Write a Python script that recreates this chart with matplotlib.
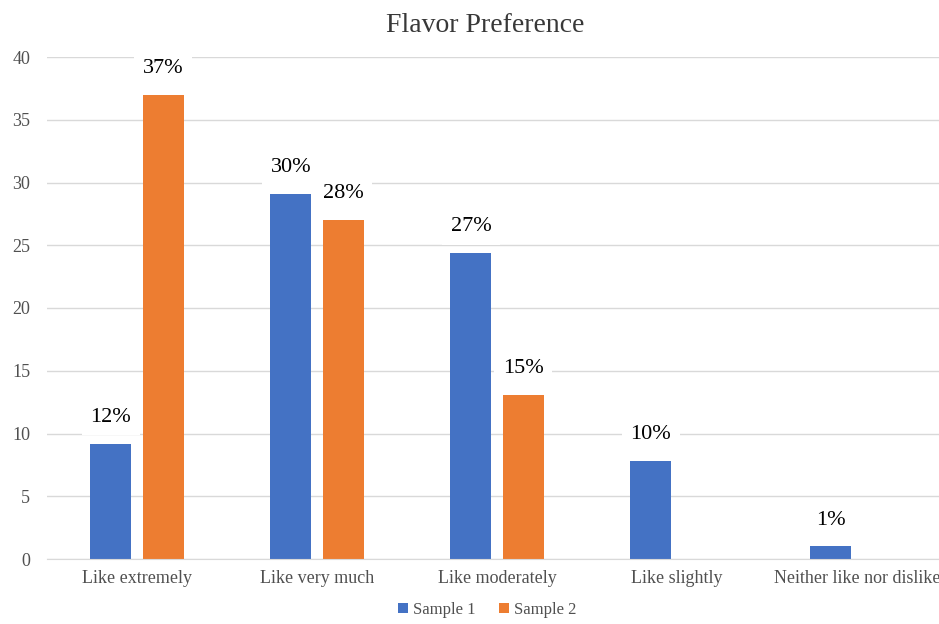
import numpy as np
import matplotlib.pyplot as plt

categories = ['Like extremely', 'Like very much', 'Like moderately',
              'Like slightly', 'Neither like nor dislike']
sample1 = [9.2, 29.1, 24.4, 7.8, 1.0]
sample2 = [37.0, 27.0, 13.1, 0.0, 0.0]
labels1 = ['12%', '30%', '27%', '10%', '1%']
labels2 = ['37%', '28%', '15%', None, None]

blue = '#4472C4'
orange = '#ED7D31'

plt.rcParams['font.family'] = ['Liberation Serif', 'DejaVu Serif']

fig = plt.figure(figsize=(9.39, 6.24), dpi=100)
W, H = 939, 624
x0, x1, y0, y1 = 47, 947, 559, 57
ax = fig.add_axes([x0 / W, 1 - y0 / H, (x1 - x0) / W, (y0 - y1) / H])

x = np.arange(len(categories))
bw = 0.228
off = 0.145
b1 = ax.bar(x - off, sample1, bw, color=blue, label='Sample 1', zorder=2)
b2 = ax.bar(x + off, sample2, bw, color=orange, label='Sample 2', zorder=2)

# percentage labels sit on white boxes that hide the gridlines behind them
box = dict(facecolor='white', edgecolor='none', pad=6)
for xi, h, t in zip(x - off, sample1, labels1):
    ax.annotate(t, (xi, h), xytext=(0, 12), textcoords='offset points',
                ha='center', va='bottom', fontsize=16, bbox=box, zorder=3)
for xi, h, t in zip(x + off, sample2, labels2):
    if t:
        ax.annotate(t, (xi, h), xytext=(0, 12), textcoords='offset points',
                    ha='center', va='bottom', fontsize=16, bbox=box, zorder=3)

ax.set_xlim(-0.5, len(categories) - 0.5)
ax.set_ylim(0, 40)
ax.set_yticks(range(0, 41, 5))
ax.set_xticks(x)
ax.set_xticklabels(categories)
ax.yaxis.grid(True, color='#d9d9d9', linewidth=1, zorder=0)
ax.set_axisbelow(True)
for s in ['top', 'right', 'left']:
    ax.spines[s].set_visible(False)
ax.spines['bottom'].set_color('#d9d9d9')
ax.tick_params(length=0, labelsize=13, labelcolor='#505050')
ax.tick_params(axis='y', pad=12)
ax.tick_params(axis='x', pad=8)

fig.text(485 / W, 1 - 25 / H, 'Flavor Preference', ha='center', va='center',
         fontsize=20, color='#383838')
fig.legend(handles=[b1, b2], loc='center', bbox_to_anchor=(487 / W, 1 - 610 / H),
           ncol=2, frameon=False, fontsize=12, handlelength=0.6, handleheight=0.6,
           handletextpad=0.3, columnspacing=1.4, labelcolor='#505050')

fig.savefig('out.png', dpi=100)
